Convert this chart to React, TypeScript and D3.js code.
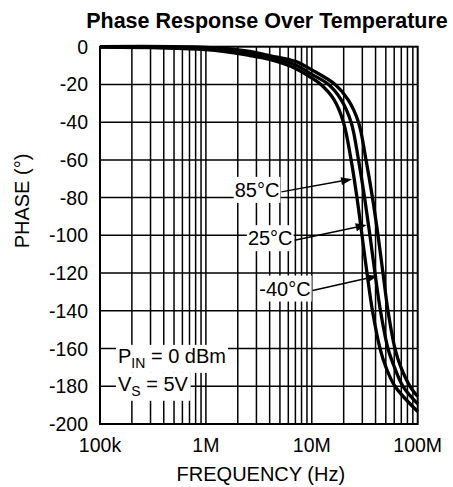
import React, { useEffect, useRef } from "react";
import * as d3 from "d3";

const TITLE = "Phase Response Over Temperature";
const X_TITLE = "FREQUENCY (Hz)";
const Y_TITLE = "PHASE (°)";

const X_TICKS = [1e5, 1e6, 1e7, 1e8];
const X_TICK_LABELS = ["100k", "1M", "10M", "100M"];
const Y_TICKS = [0, -20, -40, -60, -80, -100, -120, -140, -160, -180, -200];

const T85_FREQ = [1e5, 1e6, 2.6e6, 4e6, 7e6, 1e7, 1.22e7, 1.62e7, 1.99e7, 2.35e7, 2.67e7, 2.98e7, 3.32e7, 3.74e7, 4.41e7, 5.02e7, 6.1e7, 1e8];
const T85_PHASE = [-0.2, -1.6, -4.7, -6.8, -11.5, -16.6, -20, -28, -40, -60, -80, -100, -120, -140, -160, -170, -180, -193.4];

const T25_FREQ = [1e5, 1e6, 2.6e6, 4e6, 7e6, 1e7, 1.44e7, 1.89e7, 2.35e7, 2.76e7, 3.15e7, 3.54e7, 3.95e7, 4.45e7, 5.24e7, 6.04e7, 7.26e7, 1e8];
const T25_PHASE = [-0.1, -1.0, -3.6, -5.7, -9.7, -14.7, -20, -28, -40, -60, -80, -100, -120, -140, -160, -170, -180, -189.3];

const TM40_FREQ = [1e5, 1e6, 2.6e6, 4e6, 7e6, 1e7, 1.66e7, 2.2e7, 2.76e7, 3.25e7, 3.74e7, 4.22e7, 4.7e7, 5.24e7, 6.1e7, 6.95e7, 8.46e7, 1e8];
const TM40_PHASE = [0, -0.4, -2.5, -4.7, -7.8, -12.3, -20, -28, -40, -60, -80, -100, -120, -140, -160, -170, -180, -185.4];

const SERIES_NAMES = ["85°C", "25°C", "-40°C"];
const SERIES_FREQ = [T85_FREQ, T25_FREQ, TM40_FREQ];
const SERIES_PHASE = [T85_PHASE, T25_PHASE, TM40_PHASE];

// label centre (freq, phase) and arrow tip (freq, phase)
const LABEL_FREQ = [3.04e6, 4.05e6, 5.58e6];
const LABEL_PHASE = [-75.9, -101.5, -128.2];
const TIP_FREQ = [2.4e7, 3.3e7, 4.2e7];
const TIP_PHASE = [-70.2, -94.5, -121.5];

// conditions note (left x in freq, baseline in phase)
const NOTE_FREQ = 1.48e5;
const NOTE_PHASE = [-167.6, -182.4];

const W = 453;
const H = 487;
const M = { left: 100, right: 453 - 417.7, top: 46.7, bottom: 487 - 424 };
const FONT = "'Liberation Sans', Arial, Helvetica, sans-serif";

export default function App() {
  const ref = useRef<SVGSVGElement>(null);

  useEffect(() => {
    const svg = d3.select(ref.current);
    svg.selectAll("*").remove();

    const x = d3.scaleLog().domain([1e5, 1e8]).range([M.left, W - M.right]);
    const y = d3.scaleLinear().domain([0, -200]).range([M.top, H - M.bottom]);

    // grid
    const vGrid: number[] = [];
    for (let k = 5; k < 8; k++) {
      for (let d = 1; d <= 9; d++) {
        const f = d * Math.pow(10, k);
        if (f > 1e5 && f < 1e8) vGrid.push(f);
      }
    }
    const g = svg.append("g");
    g.selectAll("line.v")
      .data(vGrid)
      .join("line")
      .attr("x1", (d) => x(d))
      .attr("x2", (d) => x(d))
      .attr("y1", y(0))
      .attr("y2", y(-200))
      .attr("stroke", "#000")
      .attr("stroke-width", 1.5);
    g.selectAll("line.h")
      .data(Y_TICKS.filter((v) => v !== 0 && v !== -200))
      .join("line")
      .attr("x1", x(1e5))
      .attr("x2", x(1e8))
      .attr("y1", (d) => y(d))
      .attr("y2", (d) => y(d))
      .attr("stroke", "#000")
      .attr("stroke-width", 1.5);

    // curves
    const line = d3
      .line<[number, number]>()
      .x((d) => x(d[0]))
      .y((d) => y(d[1]))
      .curve(d3.curveCatmullRom.alpha(0.5));
    SERIES_FREQ.forEach((fr, i) => {
      const pts = fr.map((f, j) => [f, SERIES_PHASE[i][j]] as [number, number]);
      svg
        .append("path")
        .attr("d", line(pts) || "")
        .attr("fill", "none")
        .attr("stroke", "#000")
        .attr("stroke-width", 3.3)
        .attr("stroke-linejoin", "round");
    });

    // temperature labels with arrows
    SERIES_NAMES.forEach((name, i) => {
      const lx = x(LABEL_FREQ[i]);
      const ly = y(LABEL_PHASE[i]);
      const bg = svg.append("rect").attr("fill", "#fff");
      const t = svg
        .append("text")
        .attr("x", lx)
        .attr("y", ly)
        .attr("text-anchor", "middle")
        .attr("dominant-baseline", "central")
        .attr("font-family", FONT)
        .attr("font-size", 20)
        .attr("fill", "#000")
        .text(name);
      const bb = (t.node() as SVGTextElement).getBBox();
      bg.attr("x", bb.x - 1)
        .attr("y", bb.y - 2)
        .attr("width", bb.width + 2)
        .attr("height", bb.height + 4);
      const sx = bb.x + bb.width + 2;
      const sy = ly + 2;
      const tx = x(TIP_FREQ[i]);
      const ty = y(TIP_PHASE[i]);
      const ang = Math.atan2(ty - sy, tx - sx);
      const hl = 11;
      const hw = 4;
      const bx = tx - hl * Math.cos(ang);
      const by = ty - hl * Math.sin(ang);
      svg
        .append("line")
        .attr("x1", sx)
        .attr("y1", sy)
        .attr("x2", bx)
        .attr("y2", by)
        .attr("stroke", "#000")
        .attr("stroke-width", 1.5);
      const px = -Math.sin(ang);
      const py = Math.cos(ang);
      svg
        .append("path")
        .attr(
          "d",
          `M${tx},${ty}L${bx + hw * px},${by + hw * py}L${bx - hw * px},${by - hw * py}Z`
        )
        .attr("fill", "#000");
    });

    // conditions note
    const noteX = x(NOTE_FREQ);
    const notes: [string, string, string][] = [
      ["P", "IN", " = 0 dBm"],
      ["V", "S", " = 5V"],
    ];
    notes.forEach((n, i) => {
      const bg = svg.append("rect").attr("fill", "#fff");
      const t = svg
        .append("text")
        .attr("x", noteX)
        .attr("y", y(NOTE_PHASE[i]))
        .attr("font-family", FONT)
        .attr("font-size", 20)
        .attr("fill", "#000");
      t.append("tspan").text(n[0]);
      t.append("tspan").attr("font-size", 14).attr("dy", 5).text(n[1]);
      t.append("tspan").attr("dy", -5).text(n[2]);
      const bb = (t.node() as SVGTextElement).getBBox();
      bg.attr("x", bb.x - 2)
        .attr("y", bb.y)
        .attr("width", bb.width + 4)
        .attr("height", bb.height + 2);
    });

    // frame
    svg
      .append("rect")
      .attr("x", x(1e5))
      .attr("y", y(0))
      .attr("width", x(1e8) - x(1e5))
      .attr("height", y(-200) - y(0))
      .attr("fill", "none")
      .attr("stroke", "#000")
      .attr("stroke-width", 2);

    // y tick labels
    svg
      .selectAll("text.yt")
      .data(Y_TICKS)
      .join("text")
      .attr("x", M.left - 12)
      .attr("y", (d) => y(d))
      .attr("text-anchor", "end")
      .attr("dominant-baseline", "central")
      .attr("font-family", FONT)
      .attr("font-size", 19.5)
      .attr("fill", "#000")
      .text((d) => String(d));

    // x tick labels
    svg
      .selectAll("text.xt")
      .data(X_TICKS)
      .join("text")
      .attr("x", (d) => x(d))
      .attr("y", 452)
      .attr("text-anchor", "middle")
      .attr("font-family", FONT)
      .attr("font-size", 19.5)
      .attr("fill", "#000")
      .text((d, i) => X_TICK_LABELS[i]);

    // titles
    svg
      .append("text")
      .attr("x", 267)
      .attr("y", 28)
      .attr("text-anchor", "middle")
      .attr("font-family", FONT)
      .attr("font-weight", "bold")
      .attr("font-size", 21.5)
      .attr("fill", "#000")
      .text(TITLE);
    svg
      .append("text")
      .attr("x", (x(1e5) + x(1e8)) / 2 + 2)
      .attr("y", 481)
      .attr("text-anchor", "middle")
      .attr("font-family", FONT)
      .attr("font-size", 20)
      .attr("fill", "#000")
      .text(X_TITLE);
    svg
      .append("text")
      .attr("transform", `translate(29,201) rotate(-90)`)
      .attr("text-anchor", "middle")
      .attr("font-family", FONT)
      .attr("font-size", 20)
      .attr("fill", "#000")
      .text(Y_TITLE);
  }, []);

  return (
    <svg
      ref={ref}
      width={W}
      height={H}
      style={{ position: "absolute", left: 0, top: 0, background: "#fff", display: "block" }}
    />
  );
}
